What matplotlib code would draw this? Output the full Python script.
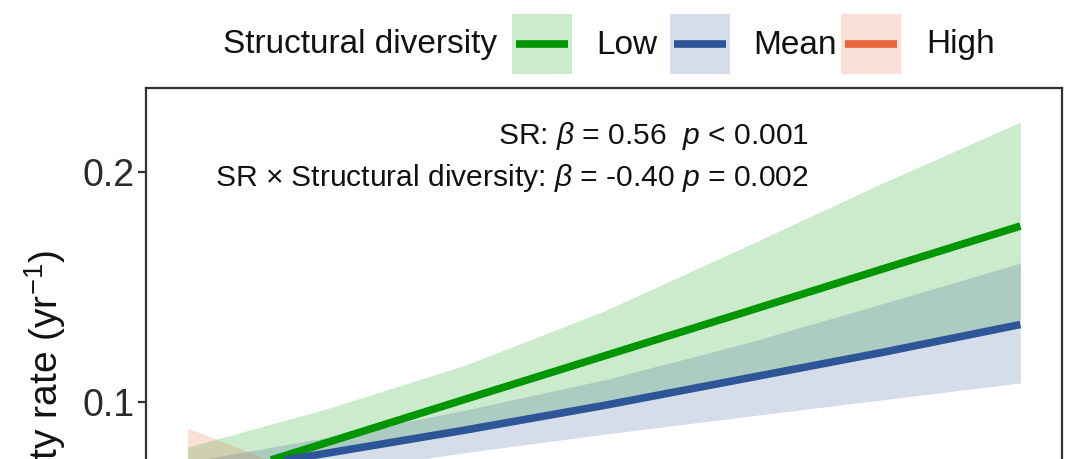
import matplotlib
matplotlib.use('Agg')
import matplotlib.pyplot as plt
from matplotlib.patches import Rectangle
from matplotlib.lines import Line2D

plt.rcParams['font.family'] = ['Liberation Sans', 'DejaVu Sans']
plt.rcParams['mathtext.fontset'] = 'custom'
plt.rcParams['mathtext.rm'] = 'Liberation Sans'
plt.rcParams['mathtext.it'] = 'Liberation Sans:italic'
plt.rcParams['mathtext.bf'] = 'Liberation Sans:bold'

# ---- data ----
sr = [1, 5, 9, 13, 17, 21, 25]
low_fit = [0.0635, 0.0823, 0.1012, 0.1200, 0.1388, 0.1577, 0.1765]
low_upper = [0.0804, 0.0970, 0.1160, 0.1395, 0.1670, 0.1950, 0.2217]
low_lower = [0.0560, 0.0790, 0.0890, 0.0995, 0.1110, 0.1228, 0.1357]
mean_fit = [0.0680, 0.0777, 0.0878, 0.0985, 0.1100, 0.1215, 0.1337]
mean_upper = [0.0740, 0.0845, 0.0965, 0.1096, 0.1252, 0.1426, 0.1604]
mean_lower = [0.0600, 0.0690, 0.0780, 0.0860, 0.0935, 0.1009, 0.1083]
high_fit = [0.0660, 0.0520, 0.0450, 0.0400, 0.0360, 0.0330, 0.0300]
high_upper = [0.0887, 0.0650, 0.0550, 0.0500, 0.0460, 0.0430, 0.0400]
high_lower = [0.0480, 0.0400, 0.0360, 0.0320, 0.0280, 0.0250, 0.0220]

groups = ['Low', 'Mean', 'High']
colors = ['#009600', '#2E5597', '#E8683A']
fits = [low_fit, mean_fit, high_fit]
uppers = [low_upper, mean_upper, high_upper]
lowers = [low_lower, mean_lower, high_lower]

legend_title = 'Structural diversity'
yticks = [0.1, 0.2]
ytick_labels = ['0.1', '0.2']
ylabel = 'Mortality rate (yr$^{-1}$)'
ann1 = r'SR: $\beta$ = 0.56  $p$ < 0.001'
ann2 = r'SR × Structural diversity: $\beta$ = -0.40 $p$ = 0.002'

W, H = 1080, 459
fig = plt.figure(figsize=(W / 100, H / 100), dpi=100)

def fx(px):
    return px / W

def fy(py):
    return 1 - py / H

ax_left, ax_right, ax_top = 146, 1062, 88
ax = fig.add_axes([fx(ax_left), 0, fx(ax_right - ax_left), fy(ax_top)])
ax.set_xlim(-0.2, 26.2)
ax.set_ylim(0.07522, 0.23652)

for c, f, u, l in zip(colors, fits, uppers, lowers):
    ax.fill_between(sr, l, u, color=c, alpha=0.2, linewidth=0)
for c, f in zip(colors, fits):
    ax.plot(sr, f, color=c, lw=5.5, solid_capstyle='butt')

spc = '#333333'
for s in ['left', 'top', 'right']:
    ax.spines[s].set_color(spc)
    ax.spines[s].set_linewidth(1.6)
ax.spines['bottom'].set_visible(False)
ax.set_xticks([])
ax.set_yticks(yticks)
ax.set_yticklabels(ytick_labels)
ax.tick_params(axis='y', length=6, width=1.6, color=spc, labelsize=27,
               labelcolor='#2b2b2b', pad=2)

txtc = '#111111'
fig.text(fx(809), fy(136), ann1, ha='right', va='center', fontsize=21.6, color=txtc)
fig.text(fx(809), fy(178), ann2, ha='right', va='center', fontsize=21.6, color=txtc)

fig.text(fx(58), fy(250), ylabel, rotation=90, rotation_mode='anchor',
         ha='right', va='baseline', fontsize=28, color=txtc)

# legend
fig.text(fx(497), fy(45), legend_title, ha='right', va='center', fontsize=24, color=txtc)
box_x = [512, 670, 841]
lab_x = [596, 753, 926]
for g, c, bx, lx in zip(groups, colors, box_x, lab_x):
    fig.add_artist(Rectangle((fx(bx), fy(74)), fx(60), (74 - 14) / H,
                             transform=fig.transFigure, facecolor=c, alpha=0.2,
                             edgecolor='none'))
    fig.add_artist(Line2D([fx(bx + 4), fx(bx + 56)], [fy(44), fy(44)],
                          transform=fig.transFigure, color=c, lw=5.5,
                          solid_capstyle='butt'))
    fig.text(fx(lx), fy(45), g, ha='left', va='center', fontsize=24, color=txtc)

fig.savefig('out.png', dpi=100)
